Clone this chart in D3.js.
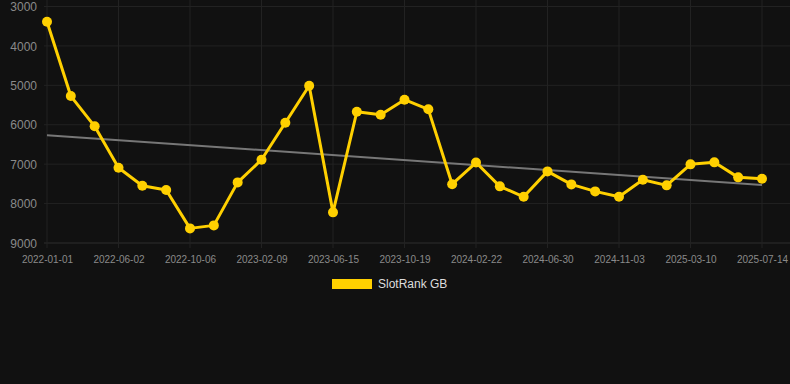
<!DOCTYPE html>
<html>
<head>
<meta charset="utf-8">
<script src="https://cdn.jsdelivr.net/npm/d3@7"></script>
<style>
  html, body { margin: 0; padding: 0; background: #111111; }
  #chart { display: block; }
  text { font-family: "Liberation Sans", Arial, sans-serif; }
</style>
</head>
<body>
<div id="container"></div>
<script>
// dates of the points (category axis, one label every 3rd point)
const dates = [
  "2022-01-01", "2022-02-20", "2022-04-11", "2022-06-02", "2022-07-14", "2022-08-25",
  "2022-10-06", "2022-11-17", "2022-12-29", "2023-02-09", "2023-03-23", "2023-05-04",
  "2023-06-15", "2023-07-27", "2023-09-07", "2023-10-19", "2023-11-30", "2024-01-11",
  "2024-02-22", "2024-04-04", "2024-05-16", "2024-06-30", "2024-08-11", "2024-09-22",
  "2024-11-03", "2024-12-15", "2025-01-27", "2025-03-10", "2025-04-21", "2025-06-02",
  "2025-07-14"
];

// rank values (lower is better, axis is reversed)
const ranks = [
  3386, 5272, 6040, 7091, 7548, 7657, 8629, 8553, 7462, 6888, 5949, 5010,
  8223, 5670, 5746, 5365, 5609, 7509, 6959, 7563, 7827, 7183, 7513, 7691,
  7827, 7395, 7538, 7005, 6954, 7335, 7370
];

const yTicks = [3000, 4000, 5000, 6000, 7000, 8000, 9000];
const seriesName = "SlotRank GB";

const w = 790;
const h = 384;
const plotLeft = 47;
const plotRight = 762;
const plotTop = 6.5;
const plotBottom = 243;

const lineColor = "#ffd000";

const svg = d3.
select("#container").
append("svg").
attr("id", "chart").
attr("width", w).
attr("height", h);

svg.append("rect").attr("width", w).attr("height", h).attr("fill", "#111111");

const data = dates.map((d, i) => ({ date: d, rank: ranks[i] }));

const xScale = d3.scalePoint().domain(dates).range([plotLeft, plotRight]);
const yScale = d3.scaleLinear().domain([3000, 9000]).range([plotTop, plotBottom]);

const labelDates = dates.filter((d, i) => i % 3 === 0);

// grid
svg.append("g").
selectAll("line").
data(yTicks).
enter().
append("line").
attr("x1", 44).
attr("x2", w).
attr("y1", d => yScale(d)).
attr("y2", d => yScale(d)).
attr("stroke", d => d === 9000 ? "#2e2e2e" : "#222222").
attr("stroke-width", 1);

svg.append("g").
selectAll("line").
data(labelDates).
enter().
append("line").
attr("x1", d => xScale(d)).
attr("x2", d => xScale(d)).
attr("y1", 0).
attr("y2", plotBottom + 5).
attr("stroke", "#222222").
attr("stroke-width", 1);

// axes
const yAxis = d3.axisLeft(yScale).tickValues(yTicks).tickFormat(d3.format("d")).tickSize(0).tickPadding(0);
const yg = svg.append("g").attr("id", "y-axis").attr("transform", "translate(37, 0)").call(yAxis);
yg.select(".domain").remove();
yg.selectAll("text").
attr("fill", "#8a8a8a").
style("font-size", "12px").
attr("dy", "0.35em");

const xAxis = d3.axisBottom(xScale).tickValues(labelDates).tickSize(0).tickPadding(0);
const xg = svg.append("g").attr("id", "x-axis").attr("transform", `translate(0, ${plotBottom + 16})`).call(xAxis);
xg.select(".domain").remove();
xg.selectAll("text").
attr("fill", "#8a8a8a").
style("font-size", "10px").
attr("dy", "0.35em");

// trend line (least squares)
const n = ranks.length;
const xs = d3.range(n);
const mx = d3.mean(xs);
const my = d3.mean(ranks);
const slope = d3.sum(xs, i => (i - mx) * (ranks[i] - my)) / d3.sum(xs, i => (i - mx) * (i - mx));
const intercept = my - slope * mx;

svg.append("line").
attr("x1", xScale(dates[0])).
attr("y1", yScale(intercept)).
attr("x2", xScale(dates[n - 1])).
attr("y2", yScale(intercept + slope * (n - 1))).
attr("stroke", "#777777").
attr("stroke-width", 2);

// series
const line = d3.line().x(d => xScale(d.date)).y(d => yScale(d.rank));

svg.append("path").
datum(data).
attr("fill", "none").
attr("stroke", lineColor).
attr("stroke-width", 3).
attr("stroke-linejoin", "round").
attr("d", line);

svg.selectAll("circle").
data(data).
enter().
append("circle").
attr("cx", d => xScale(d.date)).
attr("cy", d => yScale(d.rank)).
attr("r", 5).
attr("fill", lineColor);

// legend
const legend = svg.append("g").attr("transform", "translate(332, 279)");
legend.append("rect").attr("width", 40).attr("height", 10).attr("fill", lineColor);
legend.append("text").
attr("x", 46).
attr("y", 5).
attr("dy", "0.35em").
attr("fill", "#dddddd").
style("font-size", "12px").
text(seriesName);
</script>
</body>
</html>
